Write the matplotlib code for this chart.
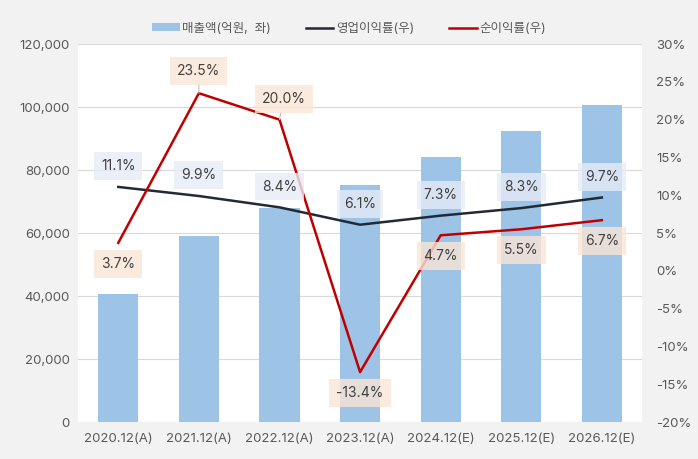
import matplotlib.pyplot as plt
from matplotlib.ticker import FuncFormatter

plt.rcParams['font.family'] = ['Inter', 'Noto Sans CJK KR', 'DejaVu Sans']

# data
years = ['2020.12(A)', '2021.12(A)', '2022.12(A)', '2023.12(A)',
         '2024.12(E)', '2025.12(E)', '2026.12(E)']
sales = [40600, 59000, 68000, 75200, 84100, 92400, 100600]
op_margin = [11.1, 9.9, 8.4, 6.1, 7.3, 8.3, 9.7]
net_margin = [3.7, 23.5, 20.0, -13.4, 4.7, 5.5, 6.7]

txt = '#595959'
fig = plt.figure(figsize=(6.98, 4.59), dpi=100, facecolor='#f2f2f2')
ax = fig.add_axes([0.1117, 0.0806, 0.8083, 0.8234])
ax.set_facecolor('white')
x = list(range(len(years)))

ax.bar(x, sales, width=0.5, color='#9dc3e6', label='매출액(억원,  좌)', zorder=2)
ax.set_ylim(0, 120000)
ax.set_yticks(range(0, 120001, 20000))
ax.yaxis.set_major_formatter(FuncFormatter(lambda v, p: f'{int(v):,}'))
ax.grid(axis='y', color='#d9d9d9', lw=0.8, zorder=0)
ax.set_xlim(-0.5, len(years) - 0.5)
ax.set_xticks(x)
ax.set_xticklabels(years)

ax2 = ax.twinx()
ax2.plot(x, op_margin, color='#222a35', lw=1.8, label='영업이익률(우)', zorder=3)
ax2.plot(x, net_margin, color='#c00000', lw=1.8, label='순이익률(우)', zorder=3)
ax2.set_ylim(-20, 30)
ax2.set_yticks(range(-20, 31, 5))
ax2.yaxis.set_major_formatter(FuncFormatter(lambda v, p: f'{int(v)}%'))

for a in (ax, ax2):
    for s in a.spines.values():
        s.set_visible(False)
    a.tick_params(length=0, labelsize=9.5, colors=txt, pad=6)
ax2.tick_params(pad=10)
ax.tick_params(axis='x', pad=8)

# labels
box = dict(boxstyle='square,pad=0.5', ec='none', alpha=0.8)
for i, v in enumerate(op_margin):
    ax2.annotate(f'{v:.1f}%', (i, v), xytext=(0, 15), textcoords='offset points',
                 ha='center', va='center', fontsize=10, color='#404040',
                 bbox=dict(box, fc='#e6ecf7'), zorder=5)
net_off = [(0, -15), (0, 16), (3, 15), (0, -15), (0, -15), (0, -15), (0, -15)]
for i, v in enumerate(net_margin):
    arrow = None
    if i in (1, 2):
        arrow = dict(arrowstyle='-', color='#bfbfbf', lw=0.8, shrinkA=0, shrinkB=0)
    ax2.annotate(f'{v:.1f}%', (i, v), xytext=net_off[i], textcoords='offset points',
                 ha='center', va='center', fontsize=10, color='#404040',
                 bbox=dict(box, fc='#fbe5d6'), arrowprops=arrow, zorder=5)

h1, l1 = ax.get_legend_handles_labels()
h2, l2 = ax2.get_legend_handles_labels()
fig.legend(h1 + h2, l1 + l2, loc='upper center', bbox_to_anchor=(0.5, 0.975), ncol=3,
           frameon=False, fontsize=9, labelcolor=txt, handlelength=2.2,
           handleheight=0.6, columnspacing=2.8, handletextpad=0.2)

fig.savefig('out.png', dpi=100, facecolor=fig.get_facecolor())
